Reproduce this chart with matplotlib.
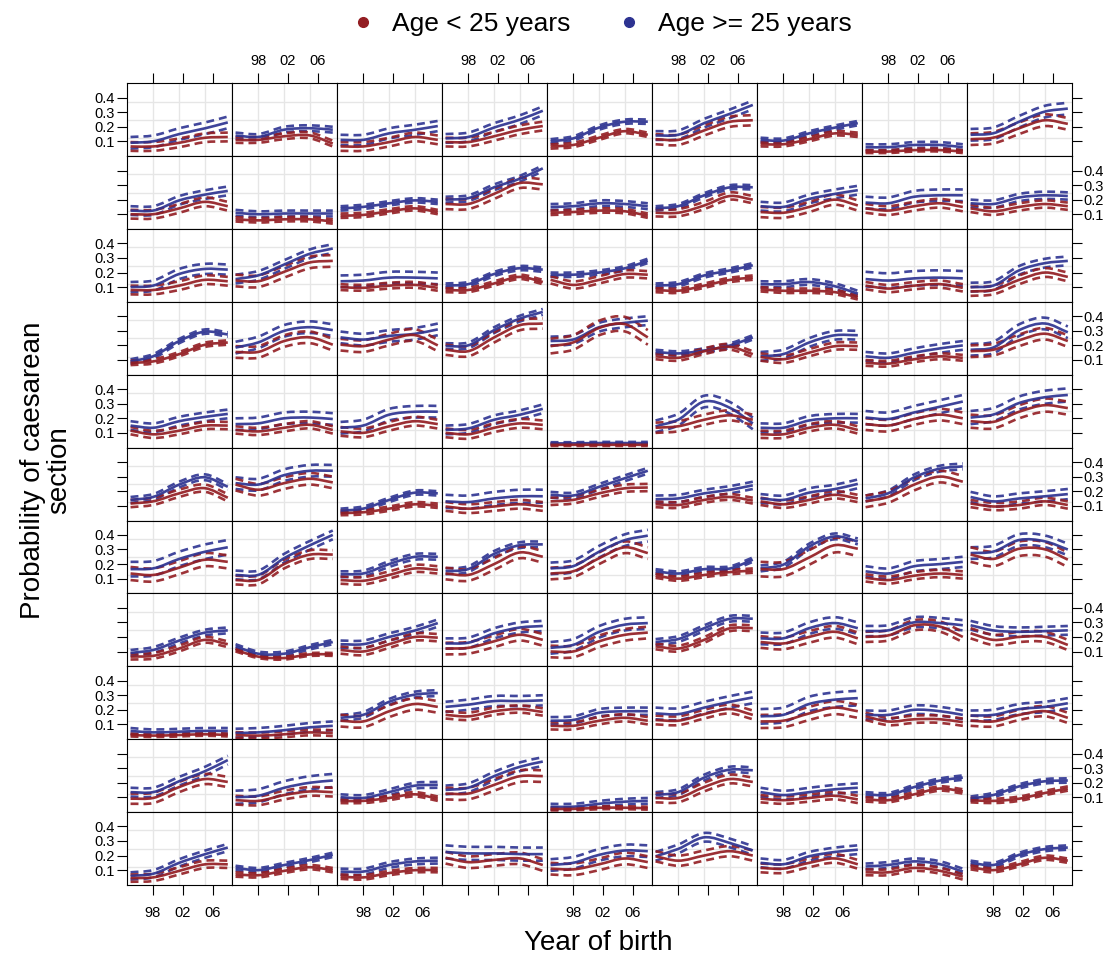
import numpy as np
import matplotlib
matplotlib.use("Agg")
import matplotlib.pyplot as plt
from matplotlib.path import Path
from matplotlib.patches import PathPatch
from matplotlib.lines import Line2D

plt.rcParams['font.family'] = ['Liberation Sans', 'DejaVu Sans']

# fitted curves are stored at these birth years (one list of 9 panels per row)
years = [1995, 1998, 2001.5, 2005, 2008]

red_mean = [
    [[0.065, 0.065, 0.09, 0.125, 0.13], [0.11, 0.11, 0.135, 0.14, 0.085], [0.065, 0.065, 0.095, 0.13, 0.11],
     [0.095, 0.095, 0.135, 0.18, 0.205], [0.065, 0.075, 0.125, 0.17, 0.145], [0.115, 0.11, 0.175, 0.235, 0.245],
     [0.08, 0.08, 0.115, 0.155, 0.145], [0.03, 0.03, 0.04, 0.04, 0.03], [0.115, 0.125, 0.19, 0.245, 0.22]],
    [[0.10, 0.10, 0.14, 0.185, 0.155], [0.065, 0.058, 0.065, 0.065, 0.05], [0.09, 0.095, 0.12, 0.14, 0.115],
     [0.17, 0.17, 0.24, 0.315, 0.305], [0.11, 0.115, 0.125, 0.12, 0.09], [0.11, 0.11, 0.16, 0.225, 0.20],
     [0.115, 0.11, 0.15, 0.20, 0.16], [0.14, 0.125, 0.155, 0.175, 0.15], [0.14, 0.12, 0.15, 0.17, 0.155]],
    [[0.08, 0.08, 0.11, 0.15, 0.14], [0.145, 0.14, 0.205, 0.27, 0.28], [0.10, 0.095, 0.11, 0.115, 0.095],
     [0.08, 0.08, 0.125, 0.17, 0.135], [0.15, 0.115, 0.15, 0.19, 0.185], [0.08, 0.075, 0.11, 0.15, 0.165],
     [0.085, 0.075, 0.075, 0.065, 0.03], [0.11, 0.09, 0.11, 0.12, 0.095], [0.07, 0.08, 0.15, 0.20, 0.17]],
    [[0.08, 0.09, 0.14, 0.205, 0.22], [0.155, 0.155, 0.23, 0.255, 0.205], [0.205, 0.195, 0.24, 0.27, 0.20],
     [0.17, 0.16, 0.255, 0.34, 0.35], [0.195, 0.22, 0.32, 0.345, 0.255], [0.125, 0.115, 0.16, 0.19, 0.14],
     [0.12, 0.105, 0.15, 0.195, 0.195], [0.08, 0.075, 0.105, 0.125, 0.115], [0.16, 0.17, 0.235, 0.28, 0.23]],
    [[0.115, 0.09, 0.115, 0.15, 0.15], [0.12, 0.11, 0.135, 0.155, 0.12], [0.11, 0.10, 0.145, 0.18, 0.16],
     [0.10, 0.09, 0.135, 0.165, 0.155], [0.018, 0.018, 0.018, 0.018, 0.018], [0.135, 0.145, 0.19, 0.22, 0.19],
     [0.09, 0.09, 0.135, 0.155, 0.12], [0.16, 0.15, 0.195, 0.225, 0.20], [0.18, 0.175, 0.245, 0.29, 0.27]],
    [[0.115, 0.13, 0.185, 0.22, 0.155], [0.245, 0.21, 0.255, 0.285, 0.26], [0.05, 0.055, 0.08, 0.11, 0.10],
     [0.095, 0.08, 0.095, 0.11, 0.095], [0.13, 0.14, 0.185, 0.22, 0.225], [0.11, 0.105, 0.14, 0.16, 0.135],
     [0.13, 0.11, 0.14, 0.175, 0.15], [0.13, 0.16, 0.245, 0.30, 0.265], [0.115, 0.095, 0.105, 0.13, 0.105]],
    [[0.135, 0.125, 0.175, 0.23, 0.215], [0.09, 0.09, 0.20, 0.265, 0.265], [0.09, 0.085, 0.125, 0.17, 0.16],
     [0.135, 0.125, 0.20, 0.28, 0.25], [0.135, 0.15, 0.24, 0.315, 0.275], [0.12, 0.10, 0.125, 0.145, 0.155],
     [0.165, 0.165, 0.245, 0.33, 0.305], [0.105, 0.09, 0.12, 0.135, 0.125], [0.265, 0.235, 0.305, 0.30, 0.23]],
    [[0.065, 0.07, 0.12, 0.18, 0.15], [0.11, 0.065, 0.055, 0.08, 0.08], [0.11, 0.10, 0.15, 0.20, 0.195],
     [0.12, 0.125, 0.17, 0.215, 0.18], [0.10, 0.10, 0.17, 0.215, 0.23], [0.135, 0.12, 0.18, 0.26, 0.26],
     [0.165, 0.155, 0.20, 0.235, 0.19], [0.20, 0.21, 0.28, 0.27, 0.20], [0.225, 0.18, 0.20, 0.20, 0.145]],
    [[0.027, 0.023, 0.027, 0.032, 0.027], [0.027, 0.023, 0.032, 0.045, 0.04], [0.125, 0.12, 0.19, 0.24, 0.22],
     [0.165, 0.155, 0.19, 0.205, 0.185], [0.09, 0.09, 0.125, 0.145, 0.125], [0.13, 0.125, 0.17, 0.205, 0.165],
     [0.12, 0.125, 0.175, 0.215, 0.19], [0.155, 0.12, 0.135, 0.135, 0.115], [0.125, 0.12, 0.165, 0.19, 0.145]],
    [[0.09, 0.095, 0.17, 0.225, 0.205], [0.08, 0.075, 0.115, 0.14, 0.135], [0.075, 0.075, 0.095, 0.12, 0.09],
     [0.125, 0.125, 0.185, 0.245, 0.245], [0.02, 0.02, 0.028, 0.028, 0.025], [0.095, 0.095, 0.17, 0.225, 0.205],
     [0.09, 0.08, 0.095, 0.11, 0.085], [0.085, 0.08, 0.12, 0.16, 0.14], [0.08, 0.075, 0.09, 0.13, 0.16]],
    [[0.045, 0.05, 0.095, 0.14, 0.14], [0.07, 0.065, 0.095, 0.12, 0.10], [0.055, 0.05, 0.08, 0.10, 0.10],
     [0.185, 0.155, 0.17, 0.18, 0.135], [0.11, 0.105, 0.14, 0.18, 0.155], [0.195, 0.165, 0.20, 0.23, 0.20],
     [0.115, 0.11, 0.15, 0.18, 0.14], [0.085, 0.085, 0.115, 0.095, 0.055], [0.12, 0.10, 0.14, 0.185, 0.165]],
]

blue_mean = [
    [[0.09, 0.10, 0.15, 0.19, 0.23], [0.14, 0.13, 0.18, 0.19, 0.18], [0.11, 0.11, 0.155, 0.18, 0.205],
     [0.12, 0.13, 0.195, 0.25, 0.31], [0.10, 0.12, 0.195, 0.235, 0.235], [0.14, 0.145, 0.225, 0.29, 0.35],
     [0.11, 0.105, 0.155, 0.195, 0.225], [0.06, 0.06, 0.075, 0.075, 0.06], [0.145, 0.155, 0.235, 0.305, 0.325]],
    [[0.125, 0.125, 0.195, 0.235, 0.26], [0.11, 0.10, 0.105, 0.105, 0.105], [0.14, 0.15, 0.175, 0.195, 0.185],
     [0.20, 0.21, 0.285, 0.345, 0.415], [0.15, 0.155, 0.175, 0.17, 0.155], [0.14, 0.155, 0.23, 0.285, 0.285],
     [0.155, 0.15, 0.205, 0.24, 0.265], [0.18, 0.175, 0.22, 0.23, 0.23], [0.175, 0.17, 0.215, 0.23, 0.225]],
    [[0.10, 0.11, 0.19, 0.225, 0.22], [0.155, 0.18, 0.255, 0.33, 0.365], [0.14, 0.145, 0.165, 0.165, 0.16],
     [0.11, 0.12, 0.19, 0.23, 0.22], [0.185, 0.185, 0.20, 0.23, 0.28], [0.11, 0.12, 0.18, 0.215, 0.25],
     [0.12, 0.12, 0.135, 0.105, 0.055], [0.155, 0.145, 0.16, 0.165, 0.16], [0.10, 0.11, 0.215, 0.265, 0.28]],
    [[0.09, 0.125, 0.23, 0.295, 0.275], [0.185, 0.22, 0.30, 0.325, 0.305], [0.255, 0.24, 0.265, 0.28, 0.31],
     [0.195, 0.20, 0.305, 0.385, 0.43], [0.23, 0.24, 0.325, 0.355, 0.37], [0.155, 0.145, 0.165, 0.20, 0.255],
     [0.125, 0.14, 0.22, 0.27, 0.27], [0.125, 0.115, 0.15, 0.18, 0.20], [0.17, 0.185, 0.305, 0.35, 0.29]],
    [[0.15, 0.135, 0.18, 0.21, 0.23], [0.16, 0.165, 0.20, 0.205, 0.195], [0.135, 0.15, 0.225, 0.245, 0.245],
     [0.12, 0.13, 0.19, 0.225, 0.265], [0.028, 0.028, 0.03, 0.03, 0.03], [0.145, 0.19, 0.315, 0.27, 0.165],
     [0.135, 0.135, 0.185, 0.20, 0.20], [0.205, 0.195, 0.24, 0.28, 0.315], [0.205, 0.225, 0.305, 0.345, 0.36]],
    [[0.14, 0.16, 0.245, 0.295, 0.23], [0.255, 0.245, 0.31, 0.34, 0.34], [0.065, 0.08, 0.14, 0.19, 0.185],
     [0.13, 0.125, 0.15, 0.165, 0.165], [0.175, 0.17, 0.23, 0.29, 0.34], [0.145, 0.15, 0.185, 0.21, 0.24],
     [0.15, 0.14, 0.19, 0.215, 0.25], [0.15, 0.185, 0.295, 0.355, 0.37], [0.16, 0.13, 0.15, 0.165, 0.18]],
    [[0.165, 0.17, 0.235, 0.285, 0.315], [0.125, 0.125, 0.24, 0.33, 0.40], [0.13, 0.135, 0.20, 0.25, 0.25],
     [0.15, 0.165, 0.27, 0.33, 0.335], [0.17, 0.185, 0.285, 0.365, 0.395], [0.15, 0.135, 0.165, 0.17, 0.23],
     [0.17, 0.195, 0.32, 0.39, 0.355], [0.15, 0.135, 0.185, 0.20, 0.215], [0.275, 0.285, 0.365, 0.355, 0.30]],
    [[0.09, 0.11, 0.175, 0.23, 0.245], [0.135, 0.085, 0.085, 0.13, 0.165], [0.15, 0.15, 0.20, 0.245, 0.295],
     [0.155, 0.16, 0.225, 0.265, 0.275], [0.125, 0.145, 0.235, 0.285, 0.295], [0.165, 0.185, 0.26, 0.325, 0.325],
     [0.19, 0.19, 0.26, 0.295, 0.26], [0.24, 0.245, 0.30, 0.295, 0.28], [0.28, 0.245, 0.235, 0.24, 0.245]],
    [[0.055, 0.045, 0.05, 0.055, 0.055], [0.04, 0.045, 0.06, 0.08, 0.09], [0.145, 0.165, 0.255, 0.305, 0.315],
     [0.22, 0.235, 0.26, 0.26, 0.265], [0.125, 0.13, 0.18, 0.19, 0.19], [0.175, 0.17, 0.215, 0.255, 0.285],
     [0.155, 0.165, 0.24, 0.27, 0.28], [0.165, 0.165, 0.20, 0.19, 0.165], [0.16, 0.165, 0.205, 0.22, 0.245]],
    [[0.135, 0.135, 0.21, 0.28, 0.355], [0.10, 0.11, 0.165, 0.20, 0.215], [0.10, 0.095, 0.135, 0.18, 0.185],
     [0.15, 0.165, 0.245, 0.31, 0.345], [0.035, 0.035, 0.055, 0.07, 0.075], [0.115, 0.135, 0.235, 0.29, 0.285],
     [0.135, 0.115, 0.135, 0.155, 0.165], [0.12, 0.115, 0.17, 0.215, 0.235], [0.09, 0.115, 0.175, 0.21, 0.215]],
    [[0.06, 0.075, 0.15, 0.21, 0.255], [0.115, 0.10, 0.135, 0.17, 0.205], [0.09, 0.09, 0.135, 0.16, 0.165],
     [0.225, 0.215, 0.215, 0.21, 0.21], [0.135, 0.15, 0.205, 0.235, 0.23], [0.195, 0.245, 0.325, 0.285, 0.235],
     [0.15, 0.14, 0.195, 0.225, 0.24], [0.125, 0.135, 0.16, 0.14, 0.09], [0.15, 0.135, 0.205, 0.245, 0.255]],
]

# half-width of the confidence band, one value per panel
red_band = [
    [0.03, 0.02, 0.03, 0.03, 0.015, 0.035, 0.015, 0.01, 0.04],
    [0.03, 0.015, 0.015, 0.035, 0.015, 0.025, 0.035, 0.03, 0.025],
    [0.03, 0.04, 0.02, 0.015, 0.025, 0.015, 0.015, 0.025, 0.03],
    [0.015, 0.04, 0.04, 0.035, 0.05, 0.02, 0.025, 0.02, 0.04],
    [0.025, 0.025, 0.03, 0.03, 0.008, 0.035, 0.025, 0.04, 0.045],
    [0.025, 0.04, 0.015, 0.03, 0.025, 0.02, 0.025, 0.04, 0.025],
    [0.045, 0.03, 0.025, 0.04, 0.04, 0.015, 0.05, 0.025, 0.05],
    [0.02, 0.01, 0.025, 0.04, 0.04, 0.02, 0.04, 0.035, 0.035],
    [0.01, 0.02, 0.04, 0.025, 0.025, 0.03, 0.045, 0.025, 0.035],
    [0.035, 0.03, 0.015, 0.04, 0.01, 0.03, 0.025, 0.015, 0.015],
    [0.025, 0.015, 0.015, 0.04, 0.04, 0.035, 0.03, 0.02, 0.015],
]
blue_band = [
    [0.04, 0.02, 0.035, 0.03, 0.015, 0.03, 0.015, 0.02, 0.04],
    [0.03, 0.02, 0.015, 0.02, 0.02, 0.015, 0.03, 0.04, 0.025],
    [0.035, 0.03, 0.04, 0.015, 0.015, 0.015, 0.02, 0.05, 0.03],
    [0.015, 0.04, 0.04, 0.02, 0.03, 0.015, 0.03, 0.03, 0.04],
    [0.03, 0.04, 0.04, 0.03, 0.008, 0.04, 0.03, 0.045, 0.045],
    [0.02, 0.04, 0.015, 0.045, 0.02, 0.025, 0.03, 0.02, 0.035],
    [0.05, 0.03, 0.02, 0.02, 0.04, 0.015, 0.02, 0.035, 0.04],
    [0.02, 0.015, 0.025, 0.035, 0.04, 0.02, 0.04, 0.035, 0.03],
    [0.02, 0.03, 0.02, 0.035, 0.025, 0.04, 0.05, 0.03, 0.035],
    [0.03, 0.045, 0.02, 0.03, 0.02, 0.02, 0.03, 0.015, 0.015],
    [0.025, 0.015, 0.02, 0.045, 0.04, 0.03, 0.03, 0.02, 0.015],
]

x_ticks = [1998, 2002, 2006]
x_labels = ['98', '02', '06']
y_ticks = [0.1, 0.2, 0.3, 0.4]
y_labels = ['0.1', '0.2', '0.3', '0.4']
groups = ['Age < 25 years', 'Age >= 25 years']

RED = '#931d22'
BLUE = '#2d3391'
XLIM = (1994.48, 2008.52)
YLIM = (-0.002, 0.498)


def smooth_path(x, y):
    # cubic Hermite curve through the stored points, drawn as bezier segments
    x = np.asarray(x, float)
    y = np.asarray(y, float)
    m = np.gradient(y, x)
    verts = [(x[0], y[0])]
    codes = [Path.MOVETO]
    for i in range(len(x) - 1):
        h = x[i + 1] - x[i]
        verts += [(x[i] + h / 3, y[i] + m[i] * h / 3),
                  (x[i + 1] - h / 3, y[i + 1] - m[i + 1] * h / 3),
                  (x[i + 1], y[i + 1])]
        codes += [Path.CURVE4] * 3
    return Path(verts, codes)


def draw_fit(ax, mean, band, color):
    mean = np.array(mean)
    for off in (-band, band):
        ax.add_patch(PathPatch(smooth_path(years, mean + off), fill=False, edgecolor=color,
                               lw=1.9, linestyle=(0, (3.0, 1.9)), alpha=0.9, zorder=3))
    ax.add_patch(PathPatch(smooth_path(years, mean), fill=False, edgecolor=color,
                           lw=1.9, alpha=0.92, zorder=4))


nrows, ncols = 11, 9
fig, axes = plt.subplots(nrows, ncols, figsize=(11.18, 9.58), dpi=100)
fig.subplots_adjust(left=0.1133, right=0.9586, top=0.913, bottom=0.0762, wspace=0, hspace=0)

gx = [XLIM[0] + f * (XLIM[1] - XLIM[0]) for f in (0.25, 0.5, 0.75)]
gy = [YLIM[0] + f * (YLIM[1] - YLIM[0]) for f in (0.25, 0.5, 0.75)]

for r in range(nrows):
    for c in range(ncols):
        ax = axes[r, c]
        ax.set_xlim(*XLIM)
        ax.set_ylim(*YLIM)
        ax.set_xticks(x_ticks)
        ax.set_xticklabels(x_labels)
        ax.set_yticks(y_ticks)
        ax.set_yticklabels(y_labels)
        ax.set_xticks(gx, minor=True)
        ax.set_yticks(gy, minor=True)
        ax.grid(which='minor', color='#e6e6e6', lw=1.0, zorder=0)
        ax.tick_params(which='minor', length=0)
        ax.tick_params(which='major', direction='out', length=7, width=0.8, labelsize=10.5,
                       top=(r == 0), bottom=(r == nrows - 1), left=(c == 0), right=(c == ncols - 1),
                       labeltop=(r == 0 and c % 2 == 1), labelbottom=(r == nrows - 1 and c % 2 == 0),
                       labelleft=(c == 0 and r % 2 == 0), labelright=(c == ncols - 1 and r % 2 == 1))
        ax.tick_params(axis='x', which='major', pad=4)
        ax.tick_params(axis='y', which='major', pad=1.5)
        if r == nrows - 1:
            ax.tick_params(axis='x', which='major', pad=8)
        for sp in ax.spines.values():
            sp.set_linewidth(0.8)
        draw_fit(ax, blue_mean[r][c], blue_band[r][c], BLUE)
        draw_fit(ax, red_mean[r][c], red_band[r][c], RED)

handles = [Line2D([], [], marker='o', ls='none', color=RED, markersize=7),
           Line2D([], [], marker='o', ls='none', color=BLUE, markersize=7)]
fig.legend(handles, groups, loc='center', bbox_to_anchor=(0.5375, 0.975), ncol=2, frameon=False,
           fontsize=19, handlelength=1.0, handletextpad=0.6, columnspacing=1.7)

fig.text(0.535, 0.016, 'Year of birth', ha='center', va='center', fontsize=20)
fig.text(0.041, 0.509, 'Probability of caesarean\nsection', ha='center', va='center',
         rotation=90, fontsize=20, linespacing=1.0)

fig.savefig('out.png', dpi=100)
